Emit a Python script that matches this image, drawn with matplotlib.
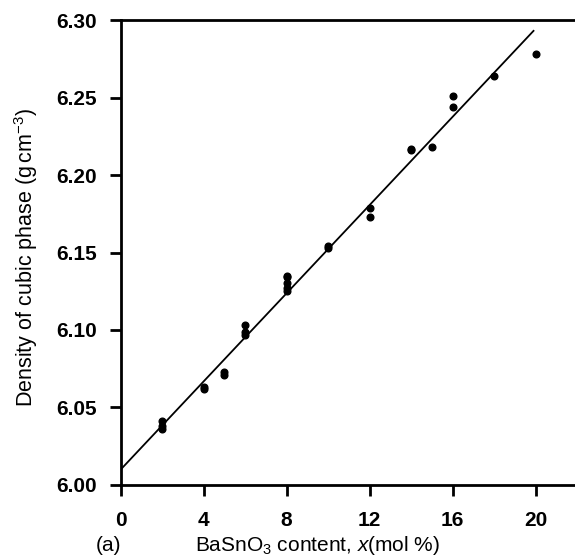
import matplotlib
matplotlib.use("Agg")
import matplotlib.pyplot as plt

plt.rcParams['font.family'] = ['Liberation Sans', 'DejaVu Sans']
plt.rcParams['mathtext.fontset'] = 'custom'
plt.rcParams['mathtext.rm'] = 'Liberation Sans'
plt.rcParams['mathtext.it'] = 'Liberation Sans:italic'

# measured points: BaSnO3 content (mol %) vs density (g cm-3)
x_content = [2, 2, 2, 4, 4, 5, 5, 6, 6, 6,
             8, 8, 8, 8, 8, 10, 10, 12, 12, 14, 14, 15, 16, 16, 18, 20]
density = [6.041, 6.038, 6.036, 6.063, 6.062, 6.073, 6.071, 6.103, 6.099, 6.097,
           6.135, 6.134, 6.130, 6.127, 6.125, 6.154, 6.153, 6.179, 6.173,
           6.217, 6.216, 6.218, 6.251, 6.244, 6.264, 6.278]

# fitted straight line end points
fit_x = [0, 19.9]
fit_y = [6.010, 6.293]

x_ticks = [0, 4, 8, 12, 16, 20]
y_ticks = [6.00, 6.05, 6.10, 6.15, 6.20, 6.25, 6.30]

fig = plt.figure(figsize=(5.75, 5.59), dpi=100)
ax = fig.add_axes([0.21, 0.1324, 0.79, 0.8318])

ax.plot(fit_x, fit_y, color='black', lw=1.3)
ax.plot(x_content, density, 'o', color='black', ms=4.8, mec='black')

ax.set_xlim(0, 21.9)
ax.set_ylim(6.00, 6.30)
ax.set_xticks(x_ticks)
ax.set_yticks(y_ticks)
ax.set_yticklabels([f"{v:.2f}" for v in y_ticks])

for s in ['left', 'top', 'bottom']:
    ax.spines[s].set_linewidth(2)
ax.spines['right'].set_visible(False)

ax.tick_params(direction='out', length=8, width=2, labelsize=15)
ax.tick_params(axis='y', pad=9)
ax.tick_params(axis='x', pad=10.5)
for lab in ax.get_xticklabels() + ax.get_yticklabels():
    lab.set_fontweight('bold')

fig.text(0.045, 0.54, r'Density of cubic phase (g$\,$cm$^{-3}$)',
         rotation=90, ha='center', va='center', fontsize=15.5)
fig.text(0.553, 0.014, r'BaSnO$_3$ content, $x$(mol %)',
         ha='center', va='baseline', fontsize=15)
fig.text(0.188, 0.014, '(a)', ha='center', va='baseline', fontsize=15)

fig.savefig('out.png', dpi=100)
